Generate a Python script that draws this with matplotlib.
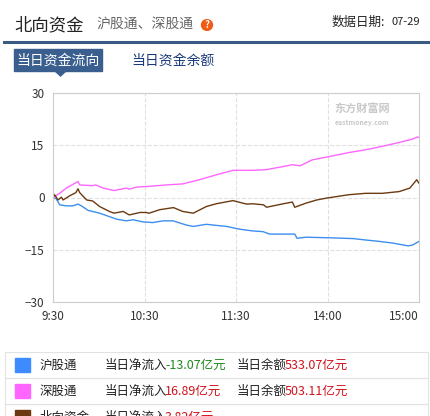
import matplotlib
matplotlib.use('Agg')
import matplotlib.pyplot as plt
from matplotlib.patches import Rectangle, Polygon
from matplotlib.lines import Line2D

plt.rcParams['font.family'] = ['Noto Sans CJK SC', 'DejaVu Sans']

# minutes since 9:30 (trading minutes, 240 total)
sh_x = [0, 2, 4.4, 8.7, 13, 16.4, 18.6, 23, 30.6, 41.5, 48, 52.5, 59, 65.5, 72, 78.7, 87.4, 92, 100.5,
        113.7, 122.4, 131, 137.7, 142, 155, 158.5, 160, 166, 175, 184, 197, 205, 214, 223, 233, 236, 240]
sh_y = [0, -0.3, -2.1, -2.4, -2.4, -1.9, -2.4, -3.7, -4.5, -6.2, -6.7, -6.4, -7, -7.2, -6.7, -6.7, -7.9, -8.3, -7.7,
        -8.3, -9.1, -9.6, -9.8, -10.5, -10.5, -10.5, -11.7, -11.4, -11.5, -11.6, -11.8, -12.2, -12.6, -13.1, -13.9, -13.6, -12.6]
sz_x = [0, 4.4, 8.7, 16.4, 17.5, 26, 28, 33, 40, 48, 50, 55, 63, 74, 85, 96, 107, 118, 131, 140,
        151, 157, 162, 170, 184, 194, 205, 216, 227, 236, 239, 240]
sz_y = [0, 1.2, 2.7, 4.6, 3.6, 3.4, 3.6, 2.7, 2, 2.7, 2.4, 3, 3.2, 3.6, 3.9, 5.1, 6.5, 7.8, 7.8, 8,
        8.9, 9.4, 9.1, 10.8, 12, 12.9, 13.7, 14.7, 15.8, 16.8, 17.4, 17.2]
nb_x = [0, 1, 3.3, 5.5, 6.6, 11, 15, 16.4, 17.5, 22, 26, 30.6, 37, 40, 46, 50, 57, 61, 63, 70, 79, 85, 92,
        100.5, 107, 118, 127, 131, 138, 140, 151, 157, 158.5, 166, 173, 179, 194, 205, 216, 227, 234, 238.5, 240]
nb_y = [0, 0.8, -0.7, 0.1, -0.7, 0.5, 1.4, 2.5, 1.4, -0.7, -1, -2.6, -4, -4.5, -4, -5, -4.3, -4.3, -4.5, -3.5, -2.9, -4, -4.5,
        -2.6, -1.8, -0.9, -1.9, -1.8, -2.1, -2.8, -1.8, -1.3, -2.8, -1.6, -0.7, -0.2, 0.8, 1.2, 1.2, 1.7, 2.7, 5.1, 4.1]

tick_pos = [0, 60, 120, 180, 240]
tick_labels = ['9:30', '10:30', '11:30', '14:00', '15:00']
y_ticks = [-30, -15, 0, 15, 30]

names = ['沪股通', '深股通', '北向资金']
inflow = ['-13.07亿元', '16.89亿元', '3.82亿元']
balance = ['533.07亿元', '503.11亿元', '']
colors = ['#3d8ef0', '#ff66ff', '#6b3a10']
square_colors = ['#3d8bff', '#ff66ff', '#6b3a10']
inflow_colors = ['#1e8a1e', '#d0141e', '#d0141e']

fig = plt.figure(figsize=(4.3, 4.16), dpi=100)
W, H = 430, 416

def fx(px):
    return px / W

def fy(py):
    return 1 - py / H

# header
fig.text(fx(14), fy(25), '北向资金', fontsize=12.5, color='#222222', va='center')
fig.text(fx(96), fy(25), '沪股通、深股通', fontsize=10, color='#666666', va='center')
fig.patches.append(plt.Circle((fx(207), fy(25)), 5.5 / W, transform=fig.transFigure, color='#f05a14'))
fig.text(fx(207), fy(25), '?', fontsize=7, color='white', ha='center', va='center', weight='bold')
fig.text(fx(332), fy(22), '数据日期:', fontsize=9, color='#222222', va='center')
fig.text(fx(392), fy(22), '07-29', fontsize=8, color='#222222', va='center')
fig.add_artist(Line2D([fx(4), fx(428)], [fy(42), fy(42)], color='#3a5a85', lw=2.2))
fig.patches.append(Rectangle((fx(14), fy(71)), 88 / W, 22 / H, transform=fig.transFigure, color='#3a5f8f'))
fig.patches.append(Polygon([[fx(55), fy(71)], [fx(66), fy(71)], [fx(60.5), fy(76)]], closed=True,
                           transform=fig.transFigure, color='#3a5f8f'))
fig.text(fx(58), fy(61), '当日资金流向', fontsize=10, color='white', ha='center', va='center')
fig.text(fx(131), fy(61), '当日资金余额', fontsize=10, color='#1a3a7a', va='center')

# chart
ax = fig.add_axes([fx(53), fy(302), (419 - 53) / W, (302 - 93) / H])
ax.plot(sh_x, sh_y, color=colors[0], lw=1)
ax.plot(sz_x, sz_y, color=colors[1], lw=1)
ax.plot(nb_x, nb_y, color=colors[2], lw=1)
ax.set_xlim(0, 240)
ax.set_ylim(-30, 30)
ax.set_xticks(tick_pos)
ax.set_xticklabels(tick_labels)
ax.get_xticklabels()[-1].set_horizontalalignment('right')
ax.set_yticks(y_ticks)
ax.tick_params(length=0, labelsize=8.5, colors='#333333', pad=6)
ax.grid(True, ls='--', color='#e0e0e0', lw=0.8)
for s in ax.spines.values():
    s.set_color('#cccccc')
ax.text(0.92, 0.92, '东方财富网', transform=ax.transAxes, fontsize=8, color='#c8c8c8',
        ha='right', va='center', weight='bold')
ax.text(0.92, 0.86, 'eastmoney.com', transform=ax.transAxes, fontsize=5, color='#c8c8c8',
        ha='right', va='center', weight='bold')

# legend table
for i in range(3):
    top = 352 + i * 26
    fig.patches.append(Rectangle((fx(5), fy(top + 26)), 423 / W, 26 / H, transform=fig.transFigure,
                                 fill=False, ec='#e2e2e2', lw=0.8))
    cy = top + 13
    fig.patches.append(Rectangle((fx(15), fy(cy + 7)), 15 / W, 14 / H, transform=fig.transFigure,
                                 color=square_colors[i]))
    fig.text(fx(40), fy(cy), names[i], fontsize=9, color='#222222', va='center')
    fig.text(fx(105), fy(cy), '当日净流入', fontsize=9, color='#222222', va='center')
    fig.text(fx(165), fy(cy), inflow[i], fontsize=9, color=inflow_colors[i], va='center')
    if balance[i]:
        fig.text(fx(237), fy(cy), '当日余额', fontsize=9, color='#222222', va='center')
        fig.text(fx(285), fy(cy), balance[i], fontsize=9, color='#d0141e', va='center')

fig.savefig('out.png', dpi=100)
